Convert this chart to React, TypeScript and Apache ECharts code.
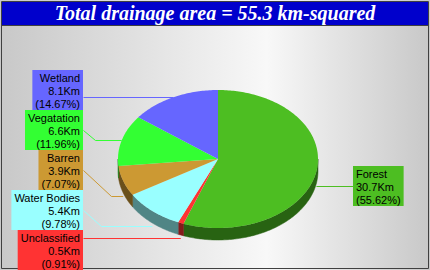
import React, { useEffect, useRef } from "react";
import * as echarts from "echarts";

const TITLE = "Total drainage area = 55.3 km-squared";
const NAMES = ["Forest", "Unclassified", "Water Bodies", "Barren", "Vegatation", "Wetland"];
const AREAS = [30.7, 0.5, 5.4, 3.9, 6.6, 8.1];
const PERCENTS = ["55.62", "0.91", "9.78", "7.07", "11.96", "14.67"];
const UNIT = "Km";

const COLORS = ["#4dbe22", "#ff3333", "#99ffff", "#cc9933", "#33ff33", "#6666ff"];

const PIE = { cx: 218, cy: 159, rx: 100, ry: 69, depth: 12 };
// label layout: side, box edge x, box top y, straight connector
const LABEL_LAYOUT = [
  { side: "right", x: 353, top: 166, straight: true },
  { side: "left", x: 83, top: 230, straight: true },
  { side: "left", x: 83, top: 190, straight: false },
  { side: "left", x: 83, top: 150, straight: false },
  { side: "left", x: 83, top: 110, straight: false },
  { side: "left", x: 83, top: 70, straight: true },
];
const LINE_H = 13;

function darken(hex: string, f: number) {
  const n = parseInt(hex.slice(1), 16);
  const r = Math.round(((n >> 16) & 255) * f);
  const g = Math.round(((n >> 8) & 255) * f);
  const b = Math.round((n & 255) * f);
  return `rgb(${r},${g},${b})`;
}

function pt(t: number, dy = 0): number[] {
  return [PIE.cx + PIE.rx * Math.sin(t), PIE.cy - PIE.ry * Math.cos(t) + dy];
}

function arc(a: number, b: number, dy = 0): number[][] {
  const pts: number[][] = [];
  const n = Math.max(2, Math.ceil(((b - a) / Math.PI) * 180));
  for (let k = 0; k <= n; k++) pts.push(pt(a + ((b - a) * k) / n, dy));
  return pts;
}

export default function App() {
  const ref = useRef<HTMLDivElement>(null);
  useEffect(() => {
    document.body.style.margin = "0";
    const chart = echarts.init(ref.current!, null, { renderer: "svg" });
    const total = AREAS.reduce((s, v) => s + v, 0);
    const starts: number[] = [];
    let acc = 0;
    AREAS.forEach((v) => {
      starts.push(acc);
      acc += v;
    });

    const renderItem = (params: any, api: any) => {
      const i = params.dataIndex;
      const v = api.value(0);
      const a0 = (starts[i] / total) * Math.PI * 2;
      const a1 = ((starts[i] + v) / total) * Math.PI * 2;
      const color = COLORS[i];
      const children: any[] = [];
      const top = [[PIE.cx, PIE.cy], ...arc(a0, a1)];
      children.push({ type: "polygon", shape: { points: top }, style: { fill: color }, z2: 10 });
      const s = Math.max(a0, Math.PI / 2);
      const e = Math.min(a1, (Math.PI * 3) / 2);
      if (e > s) {
        const side = [...arc(s, e), ...arc(s, e, PIE.depth).reverse()];
        children.push({ type: "polygon", shape: { points: side }, style: { fill: darken(color, 0.52), stroke: darken(color, 0.52), lineWidth: 0.5 }, z2: 5 });
      }
      const mid = (a0 + a1) / 2;
      const lower = Math.cos(mid) < 0;
      const [ax, ay0] = pt(mid, lower ? PIE.depth + 3 : 0);
      const ay = Math.round(ay0) + 0.5;
      const L = LABEL_LAYOUT[i];
      const boxH = LINE_H * 3 + 1;
      const edgeX = L.x + 0.5;
      let linePts: number[][];
      if (L.straight) {
        linePts = [[edgeX, ay], [ax, ay]];
      } else {
        const sy = Math.round(L.top + boxH / 2) + 0.5;
        const jx = L.side === "left" ? edgeX + 2 + Math.abs(ay - sy) : edgeX - 2 - Math.abs(ay - sy);
        linePts = [[edgeX, sy], [jx, ay], [ax, ay]];
      }
      children.push({ type: "polyline", shape: { points: linePts }, style: { stroke: color, lineWidth: 1, fill: null }, z2: 20 });
      children.push({
        type: "text",
        x: L.x,
        y: L.top,
        style: {
          text: `${NAMES[i]}\n${v}${UNIT}\n(${PERCENTS[i]}%)`,
          fill: "#000",
          font: '11px "Liberation Sans", Arial, sans-serif',
          align: L.side === "left" ? "right" : "left",
          verticalAlign: "top",
          lineHeight: LINE_H,
          backgroundColor: color,
          padding: [1, 3, 0, 3],
        },
        z2: 30,
      });
      return { type: "group", children };
    };

    chart.setOption({
      animation: false,
      backgroundColor: new echarts.graphic.LinearGradient(0, 0, 1, 0, [
        { offset: 0, color: "#c8c8c8" },
        { offset: 0.62, color: "#f8f8f8" },
        { offset: 1, color: "#c8c8c8" },
      ]),
      title: {
        text: TITLE,
        left: "center",
        top: 0,
        padding: [3, 5],
        textStyle: {
          color: "#fff",
          fontFamily: '"Liberation Serif", "Times New Roman", serif',
          fontStyle: "italic",
          fontWeight: "bold",
          fontSize: 20,
        },
        z: 10,
      },
      graphic: [
        { type: "rect", shape: { x: 2, y: 2, width: 426, height: 23 }, style: { fill: "#0000cc" }, z: 1 },
        { type: "line", shape: { x1: 2, y1: 25.5, x2: 428, y2: 25.5 }, style: { stroke: "#404040", lineWidth: 1 }, z: 1 },
        { type: "rect", shape: { x: 1.5, y: 1.5, width: 427, height: 267 }, style: { fill: null, stroke: "#404040", lineWidth: 1 }, z: 1 },
      ],
      series: [
        {
          type: "custom",
          coordinateSystem: "none",
          silent: true,
          data: AREAS.map((v, i) => ({ name: NAMES[i], value: v })),
          renderItem,
        },
      ],
    });
    return () => chart.dispose();
  }, []);
  return <div ref={ref} style={{ width: 430, height: 270 }} />;
}
